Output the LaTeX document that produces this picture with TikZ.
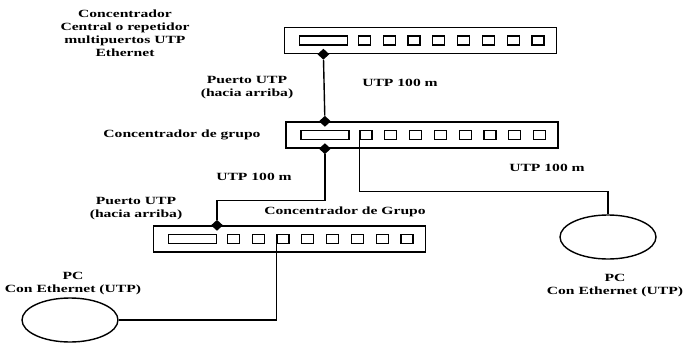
\documentclass[tikz,border=0pt]{standalone}
\usepackage{fontspec}
\newfontfamily\scanfont[FakeStretch=1.42]{Liberation Serif}
\usepackage{tikz}
\usetikzlibrary{positioning,shapes.geometric}

\begin{document}
\begin{tikzpicture}[
  x=1pt, y=-1pt,
  every node/.style={font=\scanfont\bfseries\fontsize{11pt}{13pt}\selectfont},
  hub/.style={draw, line width=1.4pt, inner sep=0pt,
    minimum width=272pt, minimum height=26pt},
  slot/.style={draw, line width=1.2pt, inner sep=0pt,
    minimum width=48pt, minimum height=9pt},
  port/.style={draw, line width=1.2pt, inner sep=0pt,
    minimum width=12pt, minimum height=9pt},
  jack/.style={diamond, fill=black, inner sep=0pt,
    minimum width=12pt, minimum height=11pt},
  pc/.style={draw, ellipse, line width=1.4pt, inner sep=0pt,
    minimum width=96pt, minimum height=44pt},
  lbl/.style={align=center, inner sep=0pt},
  cable/.style={line width=1.4pt},
]
\useasboundingbox (0,0) rectangle (686,343);

\node[hub] at (420.5, 40.5) (central) {};
\node[hub] at (422.0,135.0) (grupoA)  {};
\node[hub] at (289.5,239.0) (grupoB)  {};

\foreach \hb in {central,grupoA,grupoB}{
  \node[slot, right=15pt of \hb.west] (\hb-slot) {};
  \foreach \k [evaluate=\k as \dx using 74+24.8*(\k-1)] in {1,...,8}
    \node[port, right=\dx pt of \hb.west] (\hb-\k) {};
}

\node[jack] at (central-slot |- central.south)    (centralout) {};
\node[jack] at (grupoA-slot |- grupoA.north)      (grupoAin)   {};
\node[jack] at (grupoA-slot |- grupoA.south)      (grupoAout)  {};
\node[jack] at (grupoB-slot.east |- grupoB.north) (grupoBin)   {};

\node[pc] at (608,237) (pcR) {};
\node[pc] at ( 70,320) (pcL) {};

\node[lbl] at (125, 33.5) (centrallbl) {Concentrador\\Central o repetidor\\multipuertos UTP\\Ethernet};
\node[lbl] at (247, 87.5) (puertoA)    {Puerto UTP\\(hacia arriba)};
\node[lbl] at (400, 83.0) (utpA)       {UTP 100 m};
\node[lbl] at (182,135.0) (grupoAlbl)  {Concentrador de grupo};
\node[lbl] at (547,168.0) (utpB)       {UTP 100 m};
\node[lbl] at (254,177.0) (utpC)       {UTP 100 m};
\node[lbl] at (136,208.5) (puertoB)    {Puerto UTP\\(hacia arriba)};
\node[lbl] at (345,212.0) (grupoBlbl)  {Concentrador de Grupo};
\node[lbl] at ( 73,284.0) (pcLlbl)     {PC\\Con Ethernet (UTP)};
\node[lbl] at (615,285.5) (pcRlbl)     {PC\\Con Ethernet (UTP)};

\draw[cable] (centralout) -- (grupoAin);
\draw[cable] (grupoAout) -- ++(0,52) -| (grupoBin);
\draw[cable] (grupoA-1.south west) -- ++(0,51.5) -| (pcR.north);
\draw[cable] (grupoB-3.south west) |- (pcL.east);
\end{tikzpicture}
\end{document}
